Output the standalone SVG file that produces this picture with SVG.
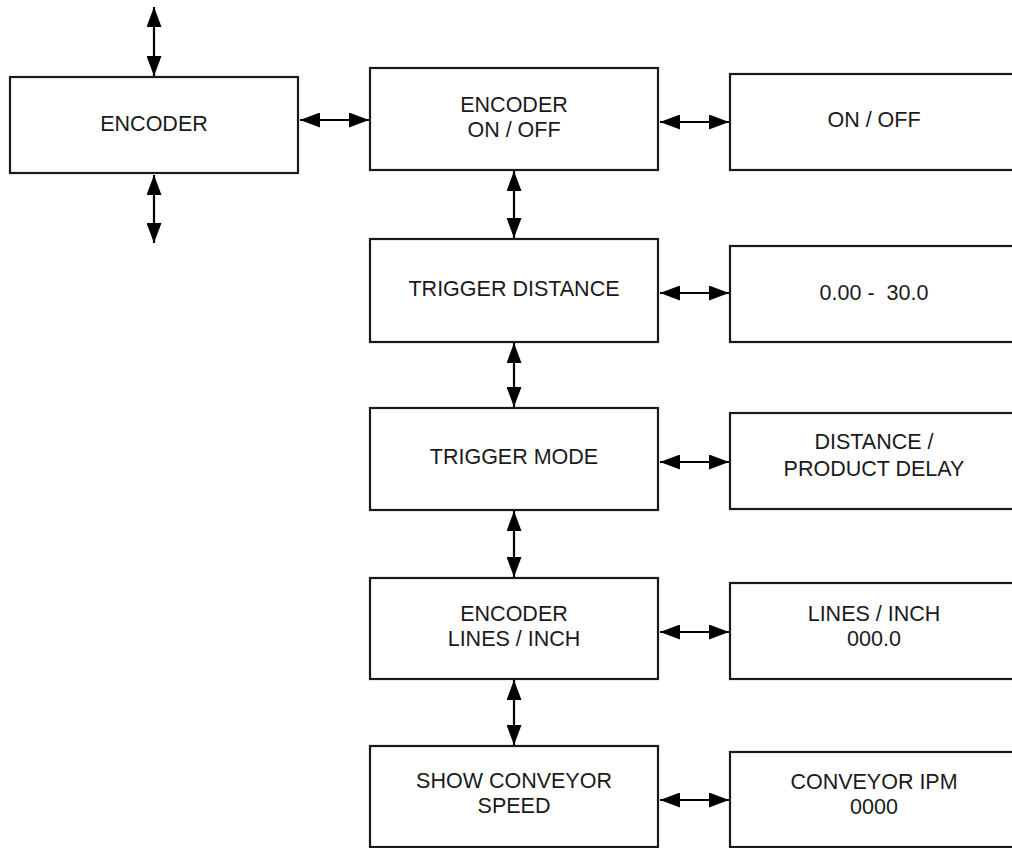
<svg xmlns="http://www.w3.org/2000/svg" width="1012" height="848" viewBox="0 0 1012 848">
<style>
.box{fill:#fff;stroke:#1a1a1a;stroke-width:2.2}
.lbl{font-family:"Liberation Sans",Arial,sans-serif;font-size:21.5px;fill:#1a1a1a;text-anchor:middle}
.con{stroke:#000;stroke-width:2.2;fill:none;marker-start:url(#ah);marker-end:url(#ah)}
</style>
<defs>
<marker id="ah" markerUnits="userSpaceOnUse" markerWidth="20" markerHeight="15" refX="20" refY="7.5" orient="auto-start-reverse" viewBox="0 0 20 15">
<path d="M0,0 L20,7.5 L0,15 z" fill="#000"/>
</marker>
</defs>
<rect width="1012" height="848" fill="#fff"/>
<g id="connectors">
<line class="con" x1="154" y1="7" x2="154" y2="76"/>
<line class="con" x1="154" y1="175" x2="154" y2="243"/>
<line class="con" x1="300" y1="120" x2="369" y2="120"/>
<line class="con" x1="660" y1="122" x2="729" y2="122"/>
<line class="con" x1="660" y1="293" x2="729" y2="293"/>
<line class="con" x1="660" y1="462" x2="729" y2="462"/>
<line class="con" x1="660" y1="632" x2="729" y2="632"/>
<line class="con" x1="660" y1="800" x2="729" y2="800"/>
<line class="con" x1="514" y1="171" x2="514" y2="238"/>
<line class="con" x1="514" y1="343" x2="514" y2="407"/>
<line class="con" x1="514" y1="511" x2="514" y2="577"/>
<line class="con" x1="514" y1="680" x2="514" y2="745"/>
</g>
<g id="encoder"><rect class="box" x="10" y="77" width="288" height="96"/><text class="lbl" x="154" y="131">ENCODER</text></g>
<g id="encoder-onoff"><rect class="box" x="370" y="68" width="288" height="102"/><text class="lbl" x="514" y="112">ENCODER</text><text class="lbl" x="514" y="137">ON / OFF</text></g>
<g id="onoff"><rect class="box" x="730" y="74" width="288" height="96"/><text class="lbl" x="874" y="127">ON / OFF</text></g>
<g id="trigger-distance"><rect class="box" x="370" y="239" width="288" height="103"/><text class="lbl" x="514" y="296">TRIGGER DISTANCE</text></g>
<g id="distance-range"><rect class="box" x="730" y="246" width="288" height="96"/><text class="lbl" x="874" y="300" xml:space="preserve">0.00 -  30.0</text></g>
<g id="trigger-mode"><rect class="box" x="370" y="408" width="288" height="102"/><text class="lbl" x="514" y="464">TRIGGER MODE</text></g>
<g id="distance-delay"><rect class="box" x="730" y="413" width="288" height="96"/><text class="lbl" x="874" y="449">DISTANCE /</text><text class="lbl" x="874" y="476">PRODUCT DELAY</text></g>
<g id="encoder-lines"><rect class="box" x="370" y="578" width="288" height="101"/><text class="lbl" x="514" y="621">ENCODER</text><text class="lbl" x="514" y="646">LINES / INCH</text></g>
<g id="lines-inch"><rect class="box" x="730" y="583" width="288" height="96"/><text class="lbl" x="874" y="621">LINES / INCH</text><text class="lbl" x="874" y="646">000.0</text></g>
<g id="show-speed"><rect class="box" x="370" y="746" width="288" height="101"/><text class="lbl" x="514" y="788">SHOW CONVEYOR</text><text class="lbl" x="514" y="813">SPEED</text></g>
<g id="conveyor-ipm"><rect class="box" x="730" y="752" width="288" height="95"/><text class="lbl" x="874" y="789">CONVEYOR IPM</text><text class="lbl" x="874" y="814">0000</text></g>
</svg>
